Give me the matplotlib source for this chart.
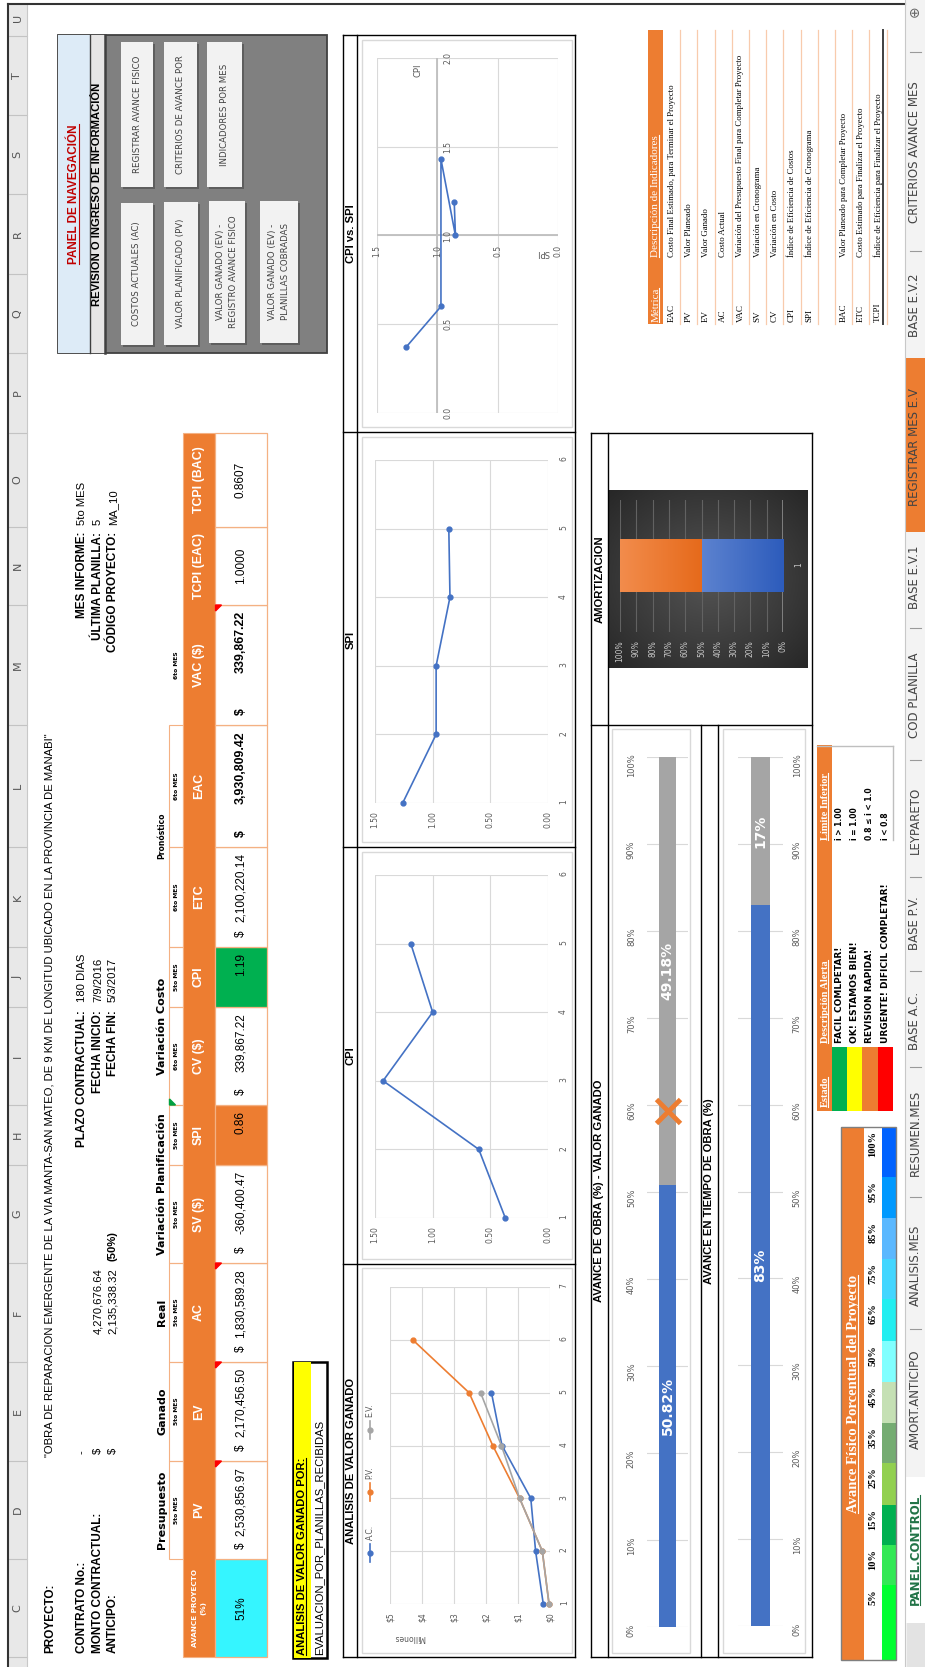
import matplotlib.pyplot as plt
import numpy as np
from matplotlib import font_manager as fm
from matplotlib.patches import Rectangle, Polygon
from matplotlib.lines import Line2D
from matplotlib.colors import LinearSegmentedColormap


def has_font(name):
    try:
        fm.findfont(fm.FontProperties(family=name), fallback_to_default=False)
        return True
    except ValueError:
        return False


NARROW = 'Liberation Sans Narrow' if has_font('Liberation Sans Narrow') else 'Liberation Sans'
NS = 1.0 if NARROW == 'Liberation Sans Narrow' else 0.85
SERIF = 'Liberation Serif'
SANS = 'DejaVu Sans'

# ---------------- data ----------------
proyecto = ('"OBRA DE REPARACION EMERGENTE DE LA VIA MANTA-SAN MATEO, DE 9 KM DE '
            'LONGITUD UBICADO EN LA PROVINCIA DE MANABI"')
monto_contractual = '4,270,676.64'
anticipo = '2,135,338.32'
anticipo_pct = '(50%)'
plazo = '180 DIAS'
fecha_inicio = '7/9/2016'
fecha_fin = '5/3/2017'
mes_informe = '5to MES'
ultima_planilla = '5'
codigo_proyecto = 'MA_10'

ind_headers = ['AVANCE PROYECTO\n(%)', 'PV', 'EV', 'AC', 'SV ($)', 'SPI', 'CV ($)', 'CPI',
               'ETC', 'EAC', 'VAC ($)', 'TCPI (EAC)', 'TCPI (BAC)']
ind_values = ['51%', '2,530,856.97', '2,170,456.50', '1,830,589.28', '-360,400.47', '0.86',
              '339,867.22', '1.19', '2,100,220.14', '3,930,809.42', '339,867.22', '1.0000', '0.8607']
ind_dollar = [False, True, True, True, True, False, True, False, True, True, True, False, False]
ind_mes = ['', '5to MES', '5to MES', '5to MES', '5to MES', '5to MES', '6to MES', '5to MES',
           '6to MES', '6to MES', '6to MES', '', '']
groups = [('Presupuesto', 1, 1), ('Ganado', 2, 2), ('Real', 3, 3),
          ('Variación Planificación', 4, 5), ('Variación Costo', 6, 7), ('Pronóstico', 8, 9)]

# analisis de valor ganado (millones)
periodos_pv = [1, 2, 3, 4, 5, 6]
periodos = [1, 2, 3, 4, 5]
ac_mill = [0.21, 0.45, 0.60, 1.50, 1.83]
pv_mill = [0.03, 0.24, 0.95, 1.79, 2.53, 4.29]
ev_mill = [0.03, 0.24, 0.95, 1.52, 2.17]
cpi_mes = [0.37, 0.60, 1.43, 1.00, 1.19]
spi_mes = [1.26, 0.97, 0.97, 0.85, 0.86]

avance_ev = 0.5082
avance_pv = 0.5926
avance_tiempo = 0.83
amortizado = 0.50

alert_colors = ['#00b050', '#ffff00', '#ed7d31', '#ff0000']
alert_desc = ['FACIL COMLPETAR!', 'OK! ESTAMOS BIEN!', 'REVISION RAPIDA!', 'URGENTE! DIFICIL COMPLETAR!']
alert_lim = ['i > 1.00', 'i = 1.00', '0.8 ≤ i < 1.0', 'i < 0.8']

af_labels = ['5%', '10%', '15%', '25%', '35%', '45%', '50%', '65%', '75%', '85%', '95%', '100%']
af_colors = ['#00ff30', '#33e855', '#00b050', '#92d050', '#75ac72', '#c5e0b4',
             '#80ffff', '#22eef0', '#43d6ff', '#5bb8ff', '#0099ff', '#0062ff']

metricas = ['EAC', 'PV', 'EV', 'AC', 'VAC', 'SV', 'CV', 'CPI', 'SPI', '', 'BAC', 'ETC', 'TCPI']
descripciones = ['Costo Final Estimado, para Terminar el Proyecto', 'Valor Planeado', 'Valor Ganado',
                 'Costo Actual', 'Variación del Presupuesto Final para Completar Proyecto',
                 'Variación en Cronograma', 'Variación en Costo', 'Índice de Eficiencia de Costos',
                 'Índice de Eficiencia de Cronograma', '', 'Valor Planeado para Completar Proyecto',
                 'Costo Estimado para Finalizar el Proyecto',
                 'Índice de Eficiencia para Finalizar el Proyecto']

botones = ['COSTOS ACTUALES (AC)', 'REGISTRAR AVANCE FISICO', 'VALOR PLANIFICADO (PV)',
           'CRITERIOS DE AVANCE POR', 'VALOR GANADO (EV) -\nREGISTRO AVANCE FISICO',
           'INDICADORES POR MES', 'VALOR GANADO (EV) -\nPLANILLAS COBRADAS']

tabs = ['PANEL.CONTROL', 'AMORT.ANTICIPO', 'ANALISIS.MES', 'RESUMEN.MES', 'BASE A.C.', 'BASE P.V.',
        'LEYPARETO', 'COD PLANILLA', 'BASE E.V.1', 'REGISTRAR MES E.V', 'BASE E.V.2',
        'CRITERIOS AVANCE MES']

col_letters = list('CDEFGHIJKLMNOPQRSTU')

# ---------------- layout helpers ----------------
# the sheet is drawn turned a quarter turn: u runs along the sheet (image bottom -> top),
# v runs down the sheet (image left -> right)
W, H = 925, 1667
ORANGE = '#ed7d31'
LORANGE = '#f4b183'
BLUE = '#4472c4'
GRAYS = '#a5a5a5'
GRID = '#d9d9d9'
TICK = '#595959'

fig = plt.figure(figsize=(9.25, 16.67), dpi=100)
fig.patch.set_facecolor('white')
underlined = []


def text(u, v, s, size=8, ha='left', va='center', rot=90, ul=False, **kw):
    t = fig.text(v / W, u / H, s, rotation=rot, rotation_mode='anchor',
                 ha=ha, va=va, fontsize=size, **kw)
    if ul:
        underlined.append(t)
    return t


def rect(u0, u1, v0, v1, fc='none', ec='none', lw=0.8, z=1):
    fig.add_artist(Rectangle((v0 / W, u0 / H), (v1 - v0) / W, (u1 - u0) / H,
                             facecolor=fc, edgecolor=ec, linewidth=lw, zorder=z))


def hl(u0, u1, v, color='black', lw=1.0, z=2):
    fig.add_artist(Line2D([v / W, v / W], [u0 / H, u1 / H], color=color, lw=lw, zorder=z))


def vl(u, v0, v1, color='black', lw=1.0, z=2):
    fig.add_artist(Line2D([v0 / W, v1 / W], [u / H, u / H], color=color, lw=lw, zorder=z))


def tri(pts, color):
    fig.add_artist(Polygon([[v / W, u / H] for u, v in pts], closed=True, color=color, zorder=3))


def add_ax(u0, u1, v0, v1):
    ax = fig.add_axes([v0 / W, u0 / H, (v1 - v0) / W, (u1 - u0) / H])
    ax.set_facecolor('none')
    for s in ax.spines.values():
        s.set_visible(False)
    ax.tick_params(length=0, labelsize=5.5, labelcolor=TICK)
    return ax


B = dict(family=NARROW, weight='bold')
N = dict(family=NARROW)

# ---------------- sheet frame ----------------
col_bounds = [10, 108, 206, 305, 404, 502, 562, 660, 720, 820, 942, 1062, 1140, 1234,
              1314, 1393, 1473, 1552, 1631, 1667]
rect(0, 1663, 8, 27, fc='#e8e8e8', z=0.5)
for b in col_bounds[:-1]:
    vl(b, 8, 27, color='#c3c3c3', lw=0.8)
for i, c in enumerate(col_letters):
    text((col_bounds[i] + col_bounds[i + 1]) / 2, 17.5, c, 8, ha='center', color='#555555', family=SANS)
hl(0, 1663, 27, color='#c8c8c8', lw=0.8)
hl(0, 1663, 8, color='#333333', lw=1.5)
vl(1663, 8, 905, color='#333333', lw=1.5)

# ---------------- project info ----------------
text(14, 50, 'PROYECTO:', 10 * NS, **B)
text(210, 50, proyecto, 9.5 * NS, **N)
text(14, 82, 'CONTRATO No.:', 10 * NS, **B)
text(14, 98, 'MONTO CONTRACTUAL:', 10 * NS, **B)
text(14, 113, 'ANTICIPO:', 10 * NS, **B)
text(213, 82, '-', 9.5 * NS, **N)
text(213, 98, '$', 9.5 * NS, **N)
text(213, 113, '$', 9.5 * NS, **N)
text(399, 98, monto_contractual, 9.5 * NS, ha='right', **N)
text(399, 113, anticipo, 9.5 * NS, ha='right', **N)
text(406, 113, anticipo_pct, 9.5 * NS, **B)

for v, lab, val in [(82, 'PLAZO CONTRACTUAL:', plazo), (98, 'FECHA INICIO:', fecha_inicio),
                    (113, 'FECHA FIN:', fecha_fin)]:
    text(657, v, lab, 10 * NS, ha='right', **B)
    text(665, v, val, 9.5 * NS, **N)
for v, lab, val in [(82, 'MES INFORME:', mes_informe), (98, 'ÚLTIMA PLANILLA:', ultima_planilla),
                    (113, 'CÓDIGO PROYECTO:', codigo_proyecto)]:
    text(1135, v, lab, 10 * NS, ha='right', **B)
    text(1142, v, val, 9.5 * NS, **N)

# ---------------- indicator table ----------------
cb = col_bounds[:14]
for lab, a, b in groups:
    size = 5.5 if lab == 'Pronóstico' else 8
    text((cb[a] + cb[b + 1]) / 2, 162, lab, size, ha='center', weight='bold', family=SANS)
for i in range(1, 10):
    rect(cb[i], cb[i + 1], 169, 183, ec=LORANGE, lw=0.8)
for i, m in enumerate(ind_mes):
    if m:
        text((cb[i] + cb[i + 1]) / 2, 176.5, m, 4.3, ha='center', weight='bold', family=SANS)

rect(cb[0], cb[-1], 183, 215, fc=ORANGE, ec=LORANGE)
for i, h in enumerate(ind_headers):
    uc = (cb[i] + cb[i + 1]) / 2
    if i == 0:
        text(uc, 199, h, 5.2, ha='center', color='white', weight='bold', family=SANS, linespacing=1.4)
    else:
        text(uc, 199, h, 10.5 * NS, ha='center', color='white', **B)

cell_fill = {0: '#35f5ff', 5: ORANGE, 7: '#00b050'}
for i, val in enumerate(ind_values):
    u0, u1 = cb[i], cb[i + 1]
    rect(u0, u1, 215, 267, fc=cell_fill.get(i, 'white'), ec=LORANGE, lw=0.9)
    st = B if i in (9, 10) else N
    size = (10.5 if i in (9, 10) else 10) * NS
    if ind_dollar[i]:
        text(u0 + 10, 241, '$', size, **st)
        text(u1 - 6, 241, val, size, ha='right', **st)
    elif i in (5, 7):
        text(u1 - 6, 241, val, size, ha='right', **st)
    else:
        text((u0 + u1) / 2, 241, val, size, ha='center', **st)
for i in (1, 2, 3, 10):
    ue = cb[i + 1]
    tri([(ue, 215.5), (ue - 6, 215.5), (ue, 221.5)], '#ff0000')
tri([(562, 169.5), (568, 169.5), (562, 175.5)], '#00a040')

# analysis selector
rect(9, 305, 293, 327, fc='white', ec='black', lw=1.8, z=1)
rect(9, 305, 294, 311, fc='#ffff00', z=1.1)
text(12, 302, 'ANALISIS DE VALOR GANADO POR:', 9.5 * NS, ul=True, **B)
text(12, 319, 'EVALUACION_POR_PLANILLAS_RECIBIDAS', 9.5 * NS, **N)

# ---------------- chart boxes ----------------
for u in [10, 403, 820, 1235, 1632]:
    vl(u, 343, 575)
for v in [343, 357, 575]:
    hl(10, 1632, v)
for u0, u1, lab in [(10, 403, 'ANALISIS DE VALOR GANADO'), (403, 820, 'CPI'),
                    (820, 1235, 'SPI'), (1235, 1632, 'CPI vs. SPI')]:
    text((u0 + u1) / 2, 350.5, lab, 9.5 * NS, ha='center', **B)
for u0, u1 in [(14, 399), (408, 815), (825, 1230), (1240, 1627)]:
    rect(u0, u1, 362, 572, ec=GRID, lw=1.0)

# earned value analysis
ax = add_ax(63, 380, 390, 550)
ax.plot(ac_mill, periodos, '-o', color=BLUE, lw=1.2, ms=3.5, clip_on=False, zorder=3)
ax.plot(pv_mill, periodos_pv, '-o', color=ORANGE, lw=1.2, ms=3.5, clip_on=False, zorder=3)
ax.plot(ev_mill, periodos, '-o', color=GRAYS, lw=1.2, ms=3.5, clip_on=False, zorder=3)
ax.set_xlim(5, 0)
ax.set_ylim(1, 7)
ax.set_xticks(range(6))
ax.set_xticklabels([f'${i}' for i in range(6)])
ax.set_yticks(range(1, 8))
ax.yaxis.tick_right()
ax.grid(color=GRID, lw=0.8)
ax.tick_params(axis='x', labelrotation=90, pad=6)
ax.tick_params(axis='y', labelrotation=90, pad=7)
text(30, 409, 'Millones', 5.5, ha='center', rot=180, color=TICK, family=SANS)
for name, col, um in [('A.C.', BLUE, 114), ('P.V.', ORANGE, 175), ('E.V.', GRAYS, 237)]:
    hl(um - 9, um + 9, 370, color=col, lw=1.2)
    fig.add_artist(Line2D([370 / W], [um / H], marker='o', ms=3.5, color=col, zorder=3))
    text(um + 13, 370, name, 5.5, color=TICK, family=SANS)


def index_chart(u0, u1, values):
    a = add_ax(u0, u1, 375, 548)
    a.plot(values, periodos, '-o', color=BLUE, lw=1.2, ms=3.5, clip_on=False, zorder=3)
    a.set_xlim(1.5, 0)
    a.set_ylim(1, 6)
    a.set_xticks([0, 0.5, 1.0, 1.5])
    a.set_xticklabels(['0.00', '0.50', '1.00', '1.50'])
    a.set_yticks(range(1, 7))
    a.yaxis.tick_right()
    a.grid(color=GRID, lw=0.8)
    a.tick_params(axis='x', labelrotation=90, pad=6)
    a.tick_params(axis='y', labelrotation=90, pad=8)
    return a


index_chart(449, 792, cpi_mes)
index_chart(864, 1207, spi_mes)

# CPI vs SPI
ax = add_ax(1254, 1609, 377, 558)
ax.plot(spi_mes, cpi_mes, '-o', color=BLUE, lw=1.2, ms=3.5, zorder=3)
ax.set_xlim(1.5, 0)
ax.set_ylim(0, 2)
ax.set_xticks([0, 0.5, 1.0, 1.5])
ax.set_yticks([0, 0.5, 1.0, 1.5, 2.0])
ax.tick_params(labelbottom=False, labelleft=False)
ax.grid(color=GRID, lw=0.8)
ax.axvline(1.0, color='#bfbfbf', lw=1.3)
ax.axhline(1.0, color='#bfbfbf', lw=1.3)
for c in [0, 0.5, 1.0, 1.5, 2.0]:
    ax.text(0.91, c, f'{c:.1f}', rotation=90, rotation_mode='anchor', ha='center', va='center',
            fontsize=5.5, color=TICK, clip_on=False)
for s in [0, 0.5, 1.0, 1.5]:
    ax.text(s, 0.946, f'{s:.1f}', rotation=90, rotation_mode='anchor', ha='right', va='center',
            fontsize=5.5, color=TICK, clip_on=False)
text(1597, 418, 'CPI', 6, ha='center', color=TICK, family=SANS)
text(1415, 543, 'SPI', 6, ha='center', rot=180, color=TICK, family=SANS)

# ---------------- progress boxes ----------------
for v in [591, 608, 812]:
    hl(10, 1234, v)
for v in [701, 718]:
    hl(10, 942, v)
for u in [10, 942, 1234]:
    vl(u, 591, 812)
text(476, 599.5, 'AVANCE DE OBRA (%) - VALOR GANADO', 9.5 * NS, ha='center', **B)
text(476, 709.5, 'AVANCE EN TIEMPO DE OBRA (%)', 9.5 * NS, ha='center', **B)
text(1088, 599.5, 'AMORTIZACION', 9.5 * NS, ha='center', **B)
rect(14, 938, 612, 690, ec=GRID, lw=1.0)
rect(14, 938, 723, 805, ec=GRID, lw=1.0)

pct_ticks = np.linspace(0, 1, 11)
pct_labels = [f'{int(round(p * 100))}%' for p in pct_ticks]

ax = add_ax(40, 910, 647, 688)
ax.bar(0, avance_ev, width=0.415, color=BLUE, zorder=2)
ax.bar(0, 1 - avance_ev, bottom=avance_ev, width=0.415, color=GRAYS, zorder=2)
ax.plot(0, avance_pv, marker='x', ms=17, mew=3.5, color=ORANGE, zorder=3)
ax.set_xlim(-0.5, 0.5)
ax.set_ylim(0, 1)
ax.set_xticks([])
ax.set_yticks(pct_ticks)
ax.set_yticklabels(pct_labels)
ax.yaxis.grid(True, color=GRID, lw=0.8)
ax.tick_params(axis='y', labelrotation=90, pad=8, labelsize=6)
ax.text(0, avance_ev / 2, f'{avance_ev * 100:.2f}%', rotation=90, ha='center', va='center',
        color='white', fontsize=10, weight='bold', family=SANS)
ax.text(0, avance_ev + (1 - avance_ev) / 2, f'{(1 - avance_ev) * 100:.2f}%', rotation=90,
        ha='center', va='center', color='white', fontsize=10, weight='bold', family=SANS)

ax = add_ax(41, 910, 738, 783)
ax.bar(0, avance_tiempo, width=0.42, color=BLUE, zorder=2)
ax.bar(0, 1 - avance_tiempo, bottom=avance_tiempo, width=0.42, color=GRAYS, zorder=2)
ax.set_xlim(-0.5, 0.5)
ax.set_ylim(0, 1)
ax.set_xticks([])
ax.set_yticks(pct_ticks)
ax.set_yticklabels(pct_labels)
ax.yaxis.tick_right()
ax.yaxis.grid(True, color=GRID, lw=0.8)
ax.tick_params(axis='y', labelrotation=90, pad=7, labelsize=6)
ax.text(0, avance_tiempo / 2, f'{avance_tiempo * 100:.0f}%', rotation=90, ha='center', va='center',
        color='white', fontsize=10, weight='bold', family=SANS)
ax.text(0, avance_tiempo + (1 - avance_tiempo) / 2, f'{(1 - avance_tiempo) * 100:.0f}%', rotation=90,
        ha='center', va='center', color='white', fontsize=10, weight='bold', family=SANS)

# amortizacion (dark style)
bg = add_ax(999, 1177, 609, 807)
yy, xx = np.mgrid[-1:1:120j, -1:1:120j]
bg.imshow(np.sqrt(xx ** 2 + yy ** 2), aspect='auto', vmin=0, vmax=1.45,
          cmap=LinearSegmentedColormap.from_list('dk', ['#545454', '#262626']))
bg.set_xticks([])
bg.set_yticks([])

ax = add_ax(1035, 1167, 620, 783)
b1 = ax.barh(1, amortizado, height=0.394, color='#3a66c2', zorder=2)[0]
b2 = ax.barh(1, 1 - amortizado, left=amortizado, height=0.394, color='#ec772a', zorder=2)[0]
for bar, cols in [(b1, ['#2d5cbc', '#5c82cf']), (b2, ['#e66a1b', '#f28c4c'])]:
    ax.imshow(np.linspace(0, 1, 64)[None, :], aspect='auto', zorder=2.5,
              cmap=LinearSegmentedColormap.from_list('g', cols),
              extent=(bar.get_x(), bar.get_x() + bar.get_width(), bar.get_y(), bar.get_y() + bar.get_height()))
ax.set_xlim(1, 0)
ax.set_ylim(0.5, 1.5)
ax.set_xticks(pct_ticks)
ax.set_xticklabels(pct_labels)
ax.set_yticks([1])
ax.yaxis.tick_right()
ax.xaxis.grid(True, color='#626262', lw=0.8)
ax.axvline(0, color='#8c8c8c', lw=1.2)
ax.tick_params(axis='x', labelrotation=90, pad=6, labelcolor='#c8c8c8')
ax.tick_params(axis='y', labelrotation=90, pad=8, labelcolor='#c8c8c8')

# ---------------- alert table ----------------
rect(556, 922, 817, 832, fc=ORANGE)
text(560, 825, 'Estado', 7.5, color='white', weight='bold', family=SERIF, ul=True)
text(624, 825, 'Descripción Alerta', 7.5, color='white', weight='bold', family=SERIF, ul=True)
text(827, 825, 'Límite Inferior', 7.5, color='white', weight='bold', family=SERIF, ul=True)
for k in range(4):
    v0 = 832 + 15.2 * k
    rect(556, 620, v0, v0 + 15.2, fc=alert_colors[k])
    text(624, v0 + 7.6, alert_desc[k], 6.5, weight='bold', family=SANS)
    text(827, v0 + 7.6, alert_lim[k], 5.5, weight='bold', family=SANS)
hl(827, 921, 893, color='#bfbfbf', lw=1.0)
vl(921, 817, 893, color='#bfbfbf', lw=1.0)

# ---------------- avance fisico legend ----------------
af_bounds = [7, 82, 122, 162, 204, 244, 285, 326, 368, 408, 449, 490, 540]
rect(7, 540, 841, 864, fc=ORANGE)
rect(7, 540, 864, 882, fc='white')
text(273, 853, 'Avance Físico Porcentual del Proyecto', 10.5, ha='center', color='white',
     weight='bold', family=SERIF, ul=True)
for k, lab in enumerate(af_labels):
    rect(af_bounds[k], af_bounds[k + 1], 882, 896, fc=af_colors[k])
    text(af_bounds[k + 1] - 4, 873, lab, 7.5, ha='right', weight='bold', family=SERIF)
rect(7, 540, 841, 896, ec='#7f7f7f', lw=1.0, z=2)

# ---------------- navigation panel ----------------
rect(1314, 1632, 58, 327, fc='#808080', ec='#404040', lw=1.3)
rect(1314, 1632, 58, 90, fc='#ddebf7', z=1.1)
rect(1314, 1632, 90, 105, fc='#e7e6e6', z=1.1)
hl(1314, 1632, 90, color='#404040', lw=1.0)
hl(1314, 1632, 105, color='#404040', lw=1.8)
text(1473, 74, 'PANEL DE NAVEGACIÓN', 10 * NS, ha='center', color='#c00000', ul=True, **B)
text(1473, 97.5, 'REVISION O INGRESO DE INFORMACIÓN', 9.5 * NS, ha='center', **B)
btn_boxes = [(1322, 1464, 121, 153), (1480, 1625, 121, 153), (1322, 1465, 164, 198),
             (1480, 1625, 164, 197), (1324, 1466, 209, 245), (1480, 1625, 207, 242),
             (1324, 1466, 260, 298)]
for (u0, u1, v0, v1), lab in zip(btn_boxes, botones):
    rect(u0 - 2, u1 - 2, v0 + 2, v1 + 2, fc='#5e5e5e', z=1.2)
    rect(u0, u1, v0, v1, fc='#f2f2f2', z=1.3)
    text((u0 + u1) / 2, (v0 + v1) / 2, lab, 6.2, ha='center', color='#404040', family=SANS,
         linespacing=1.5)

# ---------------- metric table ----------------
rect(1343, 1637, 648, 663, fc=ORANGE)
text(1345, 656, 'Métrica', 8, color='white', family=SERIF, ul=True)
text(1410, 656, 'Descripción de Indicadores', 8, color='white', family=SERIF, ul=True)
for k, (m, d) in enumerate(zip(metricas, descripciones)):
    vc = 663 + 17.2 * k + 8.6
    hl(1343, 1637, 663 + 17.2 * (k + 1), color='#f8cbad', lw=0.9)
    text(1345, vc, m, 6.5, family=SERIF)
    text(1410, vc, d, 6.3, family=SERIF)
hl(1343, 1637, 883, color='#404040', lw=1.4)

# ---------------- sheet tabs ----------------
tab_centers = [117, 268, 402, 534, 646, 744, 847, 972, 1090, 1220, 1362, 1515]
tab_seps = [338, 470, 600, 696, 790, 907, 1039, 1416, 1615]
rect(0, 1667, 905, 925, fc='#f3f3f3', z=0.5)
hl(0, 1667, 905, color='#c8c8c8', lw=0.8)
rect(0, 44, 907, 925, fc='#e3e3e3', z=0.6)
rect(44, 190, 905, 925, fc='white', z=0.7)
rect(1135, 1309, 905, 925, fc=ORANGE, z=0.7)
for k, (name, uc) in enumerate(zip(tabs, tab_centers)):
    if k == 0:
        text(uc, 915, name, 8.5, ha='center', color='#217346', weight='bold', family=SANS, ul=True)
    else:
        text(uc, 915, name, 8.5, ha='center', color='#444444', family=SANS)
for us in tab_seps:
    vl(us, 910, 921, color='#9a9a9a', lw=0.8)
text(1656, 915, '⊕', 10, ha='center', color='#666666', family=SANS)

# underlines for the texts that carry one in the sheet
fig.canvas.draw()
rend = fig.canvas.get_renderer()
for t in underlined:
    bb = t.get_window_extent(rend)
    xline = (bb.x1 - 1.2) / W
    fig.add_artist(Line2D([xline, xline], [bb.y0 / H, bb.y1 / H], color=t.get_color(), lw=0.8, zorder=4))

fig.savefig('out.png', dpi=100)
